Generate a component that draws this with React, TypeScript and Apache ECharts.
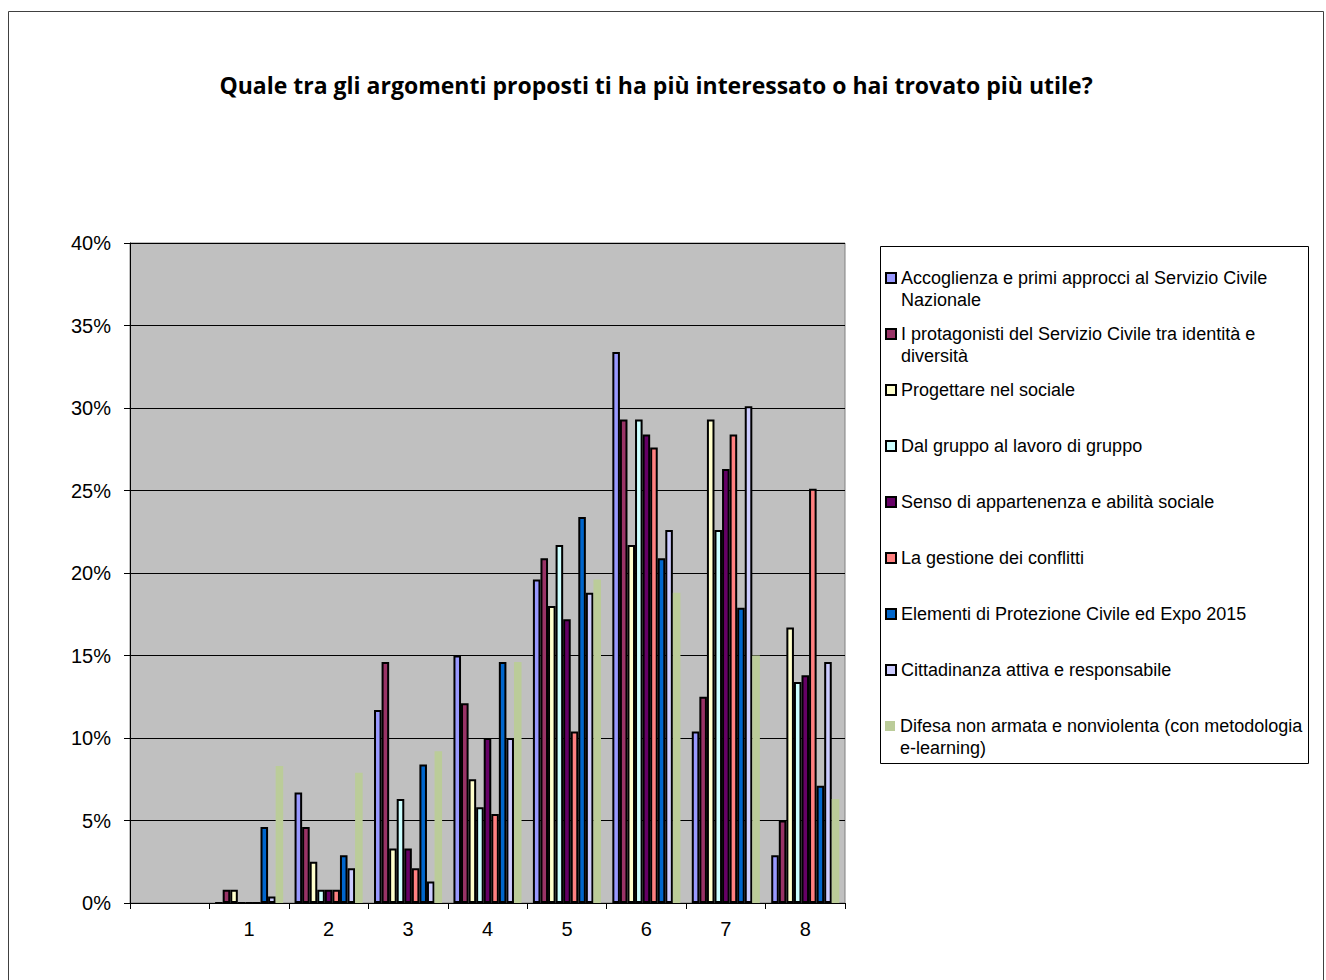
import React, { useEffect, useRef } from 'react';
import * as echarts from 'echarts';

const titleText = 'Quale tra gli argomenti proposti ti ha più interessato o hai trovato più utile?';

// First category is empty (no label), then answers 1..8
const categories = ['', '1', '2', '3', '4', '5', '6', '7', '8'];

const seriesNames = [
  'Accoglienza e primi approcci al Servizio Civile Nazionale',
  'I protagonisti del Servizio Civile tra identità e diversità',
  'Progettare nel sociale',
  'Dal gruppo al lavoro di gruppo',
  'Senso di appartenenza e abilità sociale',
  'La gestione dei conflitti',
  'Elementi di Protezione Civile ed Expo 2015',
  'Cittadinanza attiva e responsabile',
  'Difesa non armata e nonviolenta (con metodologia e-learning)',
];

// Wrapped legend lines (as in the original legend)
const legendLines = [
  ['Accoglienza e primi approcci al Servizio Civile', 'Nazionale'],
  ['I protagonisti del Servizio Civile tra identità e', 'diversità'],
  ['Progettare nel sociale'],
  ['Dal gruppo al lavoro di gruppo'],
  ['Senso di appartenenza e abilità sociale'],
  ['La gestione dei conflitti'],
  ['Elementi di Protezione Civile ed Expo 2015'],
  ['Cittadinanza attiva e responsabile'],
  ['Difesa non armata e nonviolenta (con metodologia', 'e-learning)'],
];

const seriesColors = ['#9999FF', '#993366', '#FFFFCC', '#CCFFFF', '#660066', '#FF8080', '#0066CC', '#CCCCFF', '#BBCC99'];

// Percent values for answers 1..8
const accoglienza = [0, 6.7, 11.7, 15.0, 19.6, 33.4, 10.4, 2.9];
const protagonisti = [0.8, 4.6, 14.6, 12.1, 20.9, 29.3, 12.5, 5.0];
const progettare = [0.8, 2.5, 3.3, 7.5, 18.0, 21.7, 29.3, 16.7];
const dalGruppo = [0, 0.8, 6.3, 5.8, 21.7, 29.3, 22.6, 13.4];
const senso = [0, 0.8, 3.3, 10.0, 17.2, 28.4, 26.3, 13.8];
const conflitti = [0, 0.8, 2.1, 5.4, 10.4, 27.6, 28.4, 25.1];
const protezione = [4.6, 2.9, 8.4, 14.6, 23.4, 20.9, 17.9, 7.1];
const cittadinanza = [0.4, 2.1, 1.3, 10.0, 18.8, 22.6, 30.1, 14.6];
const difesa = [8.3, 7.9, 9.2, 14.6, 19.6, 18.8, 15.0, 6.3];

const seriesValues = [accoglienza, protagonisti, progettare, dalGruppo, senso, conflitti, protezione, cittadinanza, difesa];

const yTicks = { min: 0, max: 40, interval: 5 };

const FONT = '"Liberation Sans", Arial, sans-serif';

export default function App() {
  const ref = useRef<HTMLDivElement>(null);

  useEffect(() => {
    document.body.style.margin = '0';
    if (!ref.current) return;
    const chart = echarts.init(ref.current, null, { renderer: 'svg' });

    const series = seriesNames.map((name, i) => {
      const noBorder = i === 8;
      return {
        name,
        type: 'bar',
        barGap: '0%',
        barCategoryGap: '14.3%',
        data: [null, ...seriesValues[i]],
        itemStyle: {
          color: seriesColors[i],
          borderColor: '#000000',
          borderWidth: noBorder ? 0 : 2,
        },
      };
    });

    const firstLineY = 278;
    const lineStep = 56;
    const legends = seriesNames.map((name, i) => {
      const lines = legendLines[i];
      const twoLine = lines.length > 1;
      const noBorder = i === 8;
      // two-line entries get a leading blank line so the marker sits on the first line
      const label = twoLine ? '\n' + lines.join('\n') : lines[0];
      return {
        show: true,
        orient: 'vertical',
        left: 885,
        top: firstLineY + i * lineStep - (twoLine ? 33 : 11),
        padding: 0,
        itemWidth: 10,
        itemHeight: 10,
        icon: 'rect',
        selectedMode: false,
        data: [name],
        formatter: () => label,
        itemStyle: {
          borderColor: '#000000',
          borderWidth: noBorder ? 0 : 2,
        },
        textStyle: {
          fontFamily: FONT,
          fontSize: 18,
          lineHeight: 22,
          color: '#000000',
        },
      };
    });

    chart.setOption({
      animation: false,
      backgroundColor: '#FFFFFF',
      title: {
        text: titleText,
        left: 656,
        top: 73,
        padding: 0,
        textAlign: 'center',
        textStyle: {
          fontFamily: '"Open Sans", Lato, sans-serif',
          fontWeight: 'bold',
          fontSize: 23,
          color: '#000000',
        },
      },
      legend: legends,
      grid: {
        left: 130,
        top: 243,
        width: 715,
        height: 660,
        show: true,
        backgroundColor: '#C0C0C0',
        borderColor: '#808080',
        borderWidth: 1,
        containLabel: false,
      },
      xAxis: {
        type: 'category',
        data: categories,
        axisLine: { show: true, lineStyle: { color: '#000000', width: 1 } },
        axisTick: { show: true, length: 6, lineStyle: { color: '#000000' } },
        axisLabel: { fontFamily: FONT, fontSize: 20, color: '#000000', margin: 16 },
        splitLine: { show: false },
      },
      yAxis: {
        type: 'value',
        min: yTicks.min,
        max: yTicks.max,
        interval: yTicks.interval,
        axisLine: { show: true, lineStyle: { color: '#000000', width: 1 } },
        axisTick: { show: true, length: 6, lineStyle: { color: '#000000' } },
        axisLabel: { fontFamily: FONT, fontSize: 20, color: '#000000', margin: 19, formatter: '{value}%' },
        splitLine: { show: true, lineStyle: { color: '#000000', width: 1 } },
      },
      graphic: [
        {
          type: 'rect',
          silent: true,
          shape: { x: 8.5, y: 11.5, width: 1315, height: 1000 },
          style: { fill: 'none', stroke: '#404040', lineWidth: 1 },
          z: -10,
        },
        {
          type: 'rect',
          silent: true,
          shape: { x: 880.5, y: 246.5, width: 428, height: 517 },
          style: { fill: '#FFFFFF', stroke: '#000000', lineWidth: 1 },
          z: -5,
        },
      ],
      series,
    });

    return () => chart.dispose();
  }, []);

  return <div ref={ref} style={{ width: 1326, height: 980 }} />;
}
